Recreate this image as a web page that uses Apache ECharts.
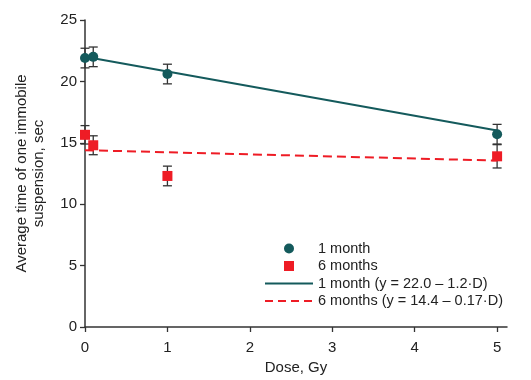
<!DOCTYPE html>
<html><head><meta charset="utf-8">
<script src="https://cdn.jsdelivr.net/npm/echarts@6/dist/echarts.min.js"></script>
<style>html,body{margin:0;padding:0;background:#fff}#c{width:531px;height:380px}</style>
</head><body><div id="c"></div>
<script>
var doses = [0, 0.1, 1, 5];
var month1 = [21.9, 22.0, 20.6, 15.7];
var month1Err = [0.8, 0.8, 0.8, 0.8];
var month6 = [15.65, 14.8, 12.3, 13.9];
var month6Err = [0.75, 0.77, 0.8, 0.95];
var fit1 = [[0, 22.0], [5, 16.0]];
var fit6 = [[0, 14.4], [5, 13.55]];
var xTicks = [0, 1, 2, 3, 4, 5];
var names = ['1 month', '6 months', '1 month (y = 22.0 \u2013 1.2\u00b7D)', '6 months (y = 14.4 \u2013 0.17\u00b7D)'];

var TEAL = '#145a5c', RED = '#ee1c25', AX = '#333';
function pts(ys){ return doses.map(function(d,i){ return [d, ys[i]]; }); }
function errData(ys, es){ return doses.map(function(d,i){ return [d, ys[i]-es[i], ys[i]+es[i]]; }); }
function errSeries(ys, es){
  return {
    type: 'custom', silent: true, z: 1,
    data: errData(ys, es),
    encode: {x: 0, y: [1, 2]},
    renderItem: function(params, api){
      var lo = api.coord([api.value(0), api.value(1)]);
      var hi = api.coord([api.value(0), api.value(2)]);
      var w = 4.5;
      var st = {stroke: '#333', lineWidth: 1.3, fill: null};
      return {type: 'group', children: [
        {type: 'line', shape: {x1: lo[0], y1: lo[1], x2: hi[0], y2: hi[1]}, style: st},
        {type: 'line', shape: {x1: lo[0]-w, y1: lo[1], x2: lo[0]+w, y2: lo[1]}, style: st},
        {type: 'line', shape: {x1: hi[0]-w, y1: hi[1], x2: hi[0]+w, y2: hi[1]}, style: st}
      ]};
    }
  };
}
var chart = echarts.init(document.getElementById('c'), null, {renderer: 'canvas'});
var font = 'Liberation Sans, Arial, sans-serif';
var hidden = {color: 'rgba(0,0,0,0)', opacity: 0, borderWidth: 0};
chart.setOption({
  animation: false,
  textStyle: {fontFamily: font},
  grid: {left: 85, right: 24, top: 20, bottom: 52, containLabel: false},
  xAxis: {
    type: 'value', min: 0, max: 5.12,
    name: 'Dose, Gy', nameLocation: 'middle', nameGap: 33,
    nameTextStyle: {fontSize: 15, color: '#222', fontFamily: font},
    splitLine: {show: false},
    axisLine: {lineStyle: {color: AX, width: 1.5}},
    axisTick: {show: true, length: 5, lineStyle: {color: AX, width: 1.3}, customValues: xTicks},
    axisLabel: {fontSize: 15, color: '#222', margin: 13, customValues: xTicks, fontFamily: font}
  },
  yAxis: {
    type: 'value', min: 0, max: 25, interval: 5,
    name: 'Average time of one immobile\nsuspension, sec', nameLocation: 'middle', nameGap: 38,
    nameTextStyle: {fontSize: 15, color: '#222', lineHeight: 17, fontFamily: font},
    splitLine: {show: false},
    axisLine: {show: true, lineStyle: {color: AX, width: 1.5}},
    axisTick: {show: true, length: 5, lineStyle: {color: AX, width: 1.3}},
    axisLabel: {fontSize: 15, color: '#222', margin: 8, fontFamily: font}
  },
  legend: {
    orient: 'vertical', left: 264, top: 241, padding: 0,
    itemWidth: 48, itemHeight: 10, itemGap: 2.5,
    textStyle: {fontSize: 14.5, color: '#222', fontFamily: font},
    data: [
      {name: names[0], icon: 'circle'},
      {name: names[1], icon: 'path://M0,0L10,0L10,10L0,10Z'},
      {name: names[2], itemStyle: hidden},
      {name: names[3], itemStyle: hidden, lineStyle: {type: [8, 5]}}
    ]
  },
  series: [
    {name: names[2], type: 'line', data: fit1, symbol: 'none', z: 2,
     lineStyle: {color: TEAL, width: 2}, itemStyle: {color: TEAL}},
    {name: names[3], type: 'line', data: fit6, symbol: 'none', z: 2,
     lineStyle: {color: RED, width: 2, type: [9, 5]}, itemStyle: {color: RED}},
    errSeries(month1, month1Err),
    errSeries(month6, month6Err),
    {name: names[0], type: 'scatter', data: pts(month1), symbol: 'circle', symbolSize: 10, z: 3,
     itemStyle: {color: TEAL, opacity: 1}},
    {name: names[1], type: 'scatter', data: pts(month6), symbol: 'rect', symbolSize: 10, z: 3,
     itemStyle: {color: RED, opacity: 1}}
  ]
});
</script></body></html>
